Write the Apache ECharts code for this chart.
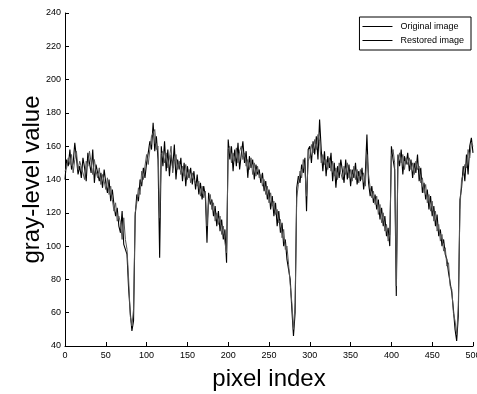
<!DOCTYPE html>
<html>
<head>
<meta charset="utf-8">
<script src="https://cdn.jsdelivr.net/npm/echarts@6/dist/echarts.min.js"></script>
<style>
html,body{margin:0;padding:0;background:#fff;}
#chart{width:477px;height:394px;}
</style>
</head>
<body>
<div id="chart"></div>
<script>
// pixel index of every sample (step of 2 pixels)
const pixelStep = 2;
const seriesNames = ['Original image', 'Restored image'];
const xTicks = [0, 50, 100, 150, 200, 250, 300, 350, 400, 450, 500];
const yTicks = [40, 60, 80, 100, 120, 140, 160, 180, 200, 220, 240];

const originalValues = [
  140, 152, 148, 158, 146, 150, 162, 153, 143, 148,
  141, 153, 147, 139, 156, 150, 144, 158, 138, 149,
  148, 139, 144, 135, 146, 138, 132, 140, 127, 134,
  125, 118, 123, 112, 108, 121, 101, 100, 95, 74,
  60, 49, 55, 118, 131, 127, 140, 136, 147, 141,
  150, 156, 163, 158, 174, 157, 166, 152, 93, 160,
  148, 163, 145, 158, 142, 155, 147, 161, 140, 152,
  146, 153, 139, 150, 136, 148, 141, 147, 137, 145,
  134, 143, 131, 138, 128, 136, 130, 102, 132, 125,
  128, 118, 124, 112, 121, 109, 116, 104, 110, 90,
  164, 152, 160, 145, 158, 148, 162, 146, 155, 163,
  150, 157, 141, 154, 147, 152, 140, 149, 143, 146,
  138, 144, 133, 139, 128, 134, 122, 130, 118, 126,
  112, 121, 108, 114, 100, 104, 92, 86, 80, 62,
  46, 60, 135, 142, 138, 149, 144, 153, 121, 158,
  160, 150, 163, 155, 166, 152, 176, 158, 145, 157,
  142, 154, 147, 156, 139, 150, 135, 148, 141, 152,
  145, 138, 152, 140, 149, 136, 146, 141, 150, 137,
  145, 139, 147, 134, 143, 167, 138, 130, 136, 126,
  131, 122, 128, 116, 123, 112, 118, 106, 111, 100,
  160, 152, 146, 70, 155, 148, 158, 143, 154, 149,
  156, 145, 152, 141, 150, 144, 155, 139, 147, 132,
  138, 128, 134, 122, 130, 118, 124, 112, 119, 106,
  110, 100, 104, 95, 92, 84, 78, 72, 62, 50,
  43, 58, 128, 135, 148, 139, 155, 143, 160, 165, 156
];

const restoredValues = [
  145, 147, 153, 149, 155, 144, 152, 157, 146, 151,
  150, 144, 140, 151, 148, 157, 150, 143, 152, 145,
  141, 147, 137, 143, 139, 134, 141, 131, 136, 128,
  121, 126, 115, 118, 114, 104, 117, 104, 98, 80,
  58, 52, 62, 120, 126, 135, 131, 145, 140, 148,
  155, 149, 158, 166, 165, 170, 158, 160, 117, 155,
  157, 150, 156, 147, 153, 160, 144, 151, 155, 146,
  151, 143, 148, 142, 149, 140, 146, 138, 144, 140,
  141, 136, 139, 130, 136, 129, 133, 112, 127, 131,
  122, 126, 115, 120, 113, 118, 107, 112, 102, 96,
  158, 160, 150, 156, 151, 159, 150, 157, 160, 152,
  156, 148, 152, 146, 153, 143, 150, 142, 148, 141,
  143, 136, 140, 131, 136, 126, 132, 124, 127, 119,
  122, 114, 116, 105, 110, 98, 100, 89, 77, 66,
  50, 66, 129, 137, 145, 141, 152, 146, 130, 151,
  154, 161, 156, 164, 158, 167, 163, 150, 155, 149,
  152, 146, 153, 145, 151, 142, 147, 140, 150, 144,
  140, 148, 143, 150, 141, 146, 139, 148, 140, 146,
  138, 146, 140, 144, 136, 155, 143, 135, 129, 133,
  125, 130, 119, 125, 114, 120, 109, 113, 103, 107,
  154, 158, 150, 76, 149, 156, 150, 155, 146, 153,
  149, 153, 146, 150, 143, 151, 146, 148, 138, 141,
  132, 137, 126, 131, 121, 127, 115, 121, 109, 113,
  103, 107, 97, 99, 88, 90, 76, 74, 60, 55,
  47, 64, 122, 140, 143, 149, 147, 158, 153, 162, 160
];

function toPairs(values) {
  return values.map((v, i) => [i * pixelStep, v]);
}

const FONT = 'Liberation Sans, Arial, Helvetica, sans-serif';
const chart = echarts.init(document.getElementById('chart'), null, {renderer: 'canvas'});
chart.setOption({
  animation: false,
  backgroundColor: '#fff',
  grid: {left: 65, right: 4, top: 13, bottom: 48, containLabel: false, outerBoundsMode: 'none'},
  legend: {
    orient: 'vertical',
    right: 6,
    top: 17,
    padding: [5, 7, 5, 3],
    icon: 'rect',
    itemWidth: 30,
    itemHeight: 1,
    itemGap: 5,
    borderColor: '#000',
    borderWidth: 1,
    backgroundColor: '#fff',
    data: seriesNames,
    itemStyle: {color: '#000'},
    textStyle: {fontFamily: FONT, fontSize: 9, color: '#000', padding: [0, 0, 0, 3]}
  },
  xAxis: {
    type: 'value',
    min: xTicks[0],
    max: xTicks[xTicks.length - 1],
    interval: 50,
    name: 'pixel index',
    nameLocation: 'middle',
    nameGap: 21,
    nameMoveOverlap: false,
    nameTextStyle: {fontFamily: FONT, fontSize: 24, color: '#000'},
    axisLine: {lineStyle: {color: '#000', width: 1}},
    axisTick: {inside: true, length: 4, lineStyle: {color: '#000'}},
    axisLabel: {fontFamily: FONT, fontSize: 9, color: '#000', margin: 5, showMaxLabel: true},
    splitLine: {show: false}
  },
  yAxis: {
    type: 'value',
    min: yTicks[0],
    max: yTicks[yTicks.length - 1],
    interval: 20,
    name: 'gray-level value',
    nameLocation: 'middle',
    nameGap: 21,
    nameMoveOverlap: false,
    nameTextStyle: {fontFamily: FONT, fontSize: 24, color: '#000'},
    axisLine: {show: true, lineStyle: {color: '#000', width: 1}},
    axisTick: {show: true, inside: true, length: 4, lineStyle: {color: '#000'}},
    axisLabel: {fontFamily: FONT, fontSize: 9, color: '#000', margin: 4},
    splitLine: {show: false}
  },
  series: [
    {
      name: seriesNames[0],
      type: 'line',
      symbol: 'none',
      data: toPairs(originalValues),
      lineStyle: {color: '#000', width: 1.1},
      itemStyle: {color: '#000'}
    },
    {
      name: seriesNames[1],
      type: 'line',
      symbol: 'none',
      data: toPairs(restoredValues),
      lineStyle: {color: '#555', width: 1},
      itemStyle: {color: '#000'}
    }
  ]
});
</script>
</body>
</html>
